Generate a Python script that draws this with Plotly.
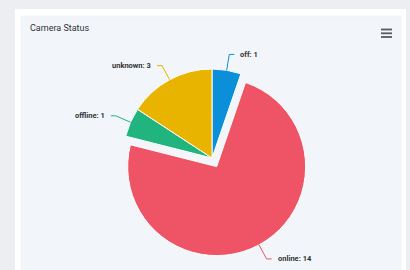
import math
import plotly.graph_objects as go

labels = ["off", "online", "offline", "unknown"]
values = [1, 14, 1, 3]
colors = ["#0a8fd8", "#ef5466", "#21b47f", "#e8b400"]
pulls = [0, 0.11, 0, 0]
title = "Camera Status"

W, H = 410, 270
# pie placement (pixels)
CX, CY, R = 212, 158, 89
DOM_HALF = R * (1 + max(pulls))

fig = go.Figure(go.Pie(
    labels=labels,
    values=values,
    sort=False,
    direction="clockwise",
    rotation=0,
    pull=pulls,
    marker=dict(colors=colors, line=dict(color="#ffffff", width=1)),
    textinfo="none",
    hoverinfo="label+value",
    showlegend=False,
    domain=dict(x=[(CX - DOM_HALF) / W, (CX + DOM_HALF) / W],
                y=[1 - (CY + DOM_HALF) / H, 1 - (CY - DOM_HALF) / H]),
))


def px(x, y):
    return x / W, 1 - y / H


shapes = [
    dict(type="rect", xref="paper", yref="paper", x0=15/W, x1=406/W, y0=-0.1, y1=1-9/H,
         fillcolor="#ffffff", line=dict(width=0), layer="below"),
    dict(type="rect", xref="paper", yref="paper", x0=21/W, x1=401/W, y0=-0.1, y1=1-16/H,
         fillcolor="#f2f6fa", line=dict(color="#e8edf2", width=0.5), layer="below"),
]
for yy in (29.5, 33.3, 37):
    shapes.append(dict(type="line", xref="paper", yref="paper", x0=381/W, x1=392/W,
                       y0=1-yy/H, y1=1-yy/H, line=dict(color="#5a5a5a", width=1.8)))

annotations = [dict(text=title, xref="paper", yref="paper", x=28/W, y=1-28/H,
                    xanchor="left", yanchor="middle", showarrow=False,
                    font=dict(family="Roboto", size=9, color="#333333"))]

# data labels with connectors, derived from slice angles
total = sum(values)
cum = 0
for lab, val, col, pl in zip(labels, values, colors, pulls):
    mid = (cum + val / 2) / total * 2 * math.pi
    cum += val
    s, c = math.sin(mid), -math.cos(mid)
    ox, oy = CX + pl * R * s, CY + pl * R * c
    ex, ey = ox + R * s, oy + R * c
    bx, by = ox + (R + 16) * s, oy + (R + 16) * c
    side = 1 if s >= 0 else -1
    hx = bx + 5 * side
    shapes.append(dict(type="path", xref="paper", yref="paper",
                       path="M %f,%f L %f,%f L %f,%f" % (*px(ex, ey), *px(bx, by), *px(hx, by)),
                       line=dict(color=col, width=1)))
    tx, ty = px(hx + 4 * side, by)
    annotations.append(dict(text="<b>%s: %d</b>" % (lab, val), xref="paper", yref="paper",
                            x=tx, y=ty, xanchor="left" if side > 0 else "right",
                            yanchor="middle", showarrow=False,
                            font=dict(family="Roboto", size=7.5, color="#333333")))

fig.update_layout(
    width=W, height=H,
    margin=dict(l=0, r=0, t=0, b=0),
    paper_bgcolor="#eceef2",
    plot_bgcolor="#eceef2",
    shapes=shapes,
    annotations=annotations,
)

fig.write_html("out.html", config={"displayModeBar": False},
               post_script="document.body.style.margin='0';document.body.style.background='#eceef2';")
